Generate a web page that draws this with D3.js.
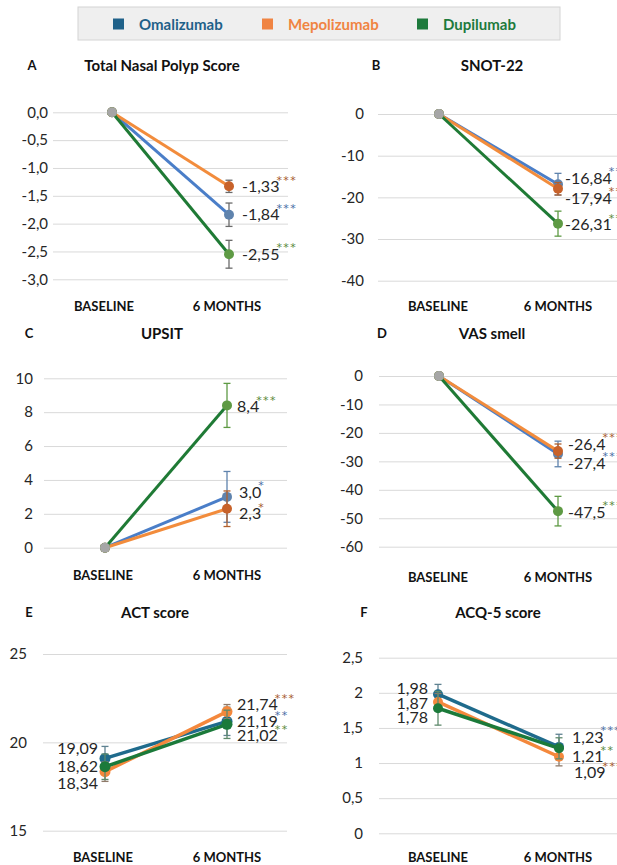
<!DOCTYPE html>
<html>
<head>
<meta charset="utf-8">
<script src="https://cdn.jsdelivr.net/npm/d3@7"></script>
<style>
    body { margin: 0; background: #fff; }
    svg text { font-family: Lato, "Open Sans", sans-serif; }
</style>
</head>
<body>
<div id="chart"></div>
<script>

// groups (same order everywhere) and the two time points
const groups = ["Omalizumab", "Mepolizumab", "Dupilumab"];
const timepoints = ["BASELINE", "6 MONTHS"];

// A - Total Nasal Polyp Score (change from baseline)
const tnpsMean = [[0, -1.84], [0, -1.33], [0, -2.55]];
const tnpsErr = [[0, 0.21], [0, 0.11], [0, 0.25]];
const tnpsStars = ["***", "***", "***"];
const tnpsTicks = [0, -0.5, -1, -1.5, -2, -2.5, -3];

// B - SNOT-22
const snotMean = [[0, -16.84], [0, -17.94], [0, -26.31]];
const snotErr = [[0, 2.6], [0, 1.5], [0, 3.0]];
const snotStars = ["***", "***", "***"];
const snotTicks = [0, -10, -20, -30, -40];

// C - UPSIT
const upsitMean = [[0, 3.0], [0, 2.3], [0, 8.4]];
const upsitErr = [[0, 1.5], [0, 1.05], [0, 1.3]];
const upsitStars = ["*", "*", "***"];
const upsitTicks = [0, 2, 4, 6, 8, 10];

// D - VAS smell
const vasMean = [[0, -27.4], [0, -26.4], [0, -47.5]];
const vasErr = [[0, 4.5], [0, 2.5], [0, 5.2]];
const vasStars = ["***", "***", "***"];
const vasTicks = [0, -10, -20, -30, -40, -50, -60];

// E - ACT score
const actMean = [[19.09, 21.19], [18.34, 21.74], [18.62, 21.02]];
const actErr = [[0.68, 0.8], [0.55, 0.4], [0.72, 0.8]];
const actStars = ["**", "***", "**"];
const actTicks = [15, 20, 25];

// F - ACQ-5 score
const acqMean = [[1.98, 1.23], [1.87, 1.09], [1.78, 1.21]];
const acqErr = [[0.14, 0.18], [0.12, 0.13], [0.24, 0.15]];
const acqStars = ["***", "***", "**"];
const acqTicks = [0, 0.5, 1, 1.5, 2, 2.5];

// comma decimals, plain hyphen minus
const locale = d3.formatLocale({decimal: ",", thousands: ".", grouping: [3], currency: ["", ""], minus: "-"});

const legendColors = ["#1f6189", "#f08442", "#1d7a3c"];
const starColors = ["#4a6fa5", "#a65a2e", "#5a8a3a"];

// styles for the top four panels (excel default look) and the two asthma panels
const softStyle = {
    line: ["#4a7ec8", "#f28c3c", "#1f7a35"],
    marker: ["#5f83ad", "#c8622a", "#5e9a44"],
    err: ["#5f83ad", "#b0602e", "#5e9a44"],
    width: 3, r: 5
};
const darkStyle = {
    line: ["#1f6b8c", "#f4883c", "#1b7a3a"],
    marker: ["#1f6b8c", "#f4883c", "#1b7a3a"],
    err: ["#5f8291", "#8f7a6a", "#5f8a6c"],
    width: 3.5, r: 5.5
};

class panelVis {
    constructor(_svg, _cfg) {
        this.svg = _svg;
        this.cfg = _cfg;
        this.initVis();
    }

    initVis() {
        let vis = this;
        let c = vis.cfg;

        vis.g = vis.svg.append('g').attr('class', 'panel');

        vis.x = d3.scalePoint().domain(timepoints).range([c.x0, c.x1]);
        vis.xLab = d3.scalePoint().domain(timepoints).range(c.xLab);
        vis.y = d3.scaleLinear().domain(c.domain).range(c.yRange);

        // letter + title
        vis.g.append('text')
            .attr('x', c.letter[0]).attr('y', c.letter[1])
            .attr('text-anchor', 'middle').attr('dominant-baseline', 'central')
            .attr('font-size', 13).attr('font-weight', 700).attr('fill', '#111')
            .text(c.id);
        vis.g.append('text')
            .attr('x', c.title[0]).attr('y', c.title[1])
            .attr('text-anchor', 'middle').attr('dominant-baseline', 'central')
            .attr('font-size', 15).attr('font-weight', 700).attr('fill', '#111')
            .text(c.name);

        // y axis used as gridlines + labels
        vis.yAxis = d3.axisLeft(vis.y)
            .tickValues(c.ticks)
            .tickFormat(locale.format(c.tickFmt))
            .tickSize(-(c.grid[1] - c.grid[0]))
            .tickPadding(c.grid[0] - c.tickX);

        vis.g.append('g')
            .attr('transform', 'translate(' + c.grid[0] + ',0)')
            .call(vis.yAxis)
            .call(g => g.select('.domain').remove())
            .call(g => g.selectAll('.tick line').attr('stroke', '#d9d9d9').attr('stroke-width', 1))
            .call(g => g.selectAll('.tick text')
                .attr('font-size', 15).attr('fill', '#262626')
                .attr('font-family', 'Lato, sans-serif'));

        // category labels
        vis.g.selectAll('.xlab')
            .data(timepoints)
            .enter()
            .append('text')
            .attr('class', 'xlab')
            .attr('x', d => vis.xLab(d))
            .attr('y', c.xLabY)
            .attr('text-anchor', 'middle').attr('dominant-baseline', 'central')
            .attr('font-size', 13).attr('font-weight', 700).attr('fill', '#111')
            .text(d => d);

        let st = c.style;
        let series = groups.map((gname, i) => ({
            i: i,
            pts: timepoints.map((t, j) => ({t: t, v: c.mean[i][j], e: c.err[i][j]}))
        }));

        vis.line = d3.line()
            .x(d => vis.x(d.t))
            .y(d => vis.y(d.v));

        let sg = vis.g.selectAll('.series')
            .data(series)
            .enter()
            .append('g')
            .attr('class', 'series');

        sg.append('path')
            .attr('d', d => vis.line(d.pts))
            .attr('fill', 'none')
            .attr('stroke', d => st.line[d.i])
            .attr('stroke-width', st.width);

        // error bars
        sg.each(function(s) {
            let eb = d3.select(this).selectAll('.err')
                .data(s.pts.filter(p => p.e > 0))
                .enter()
                .append('g')
                .attr('class', 'err')
                .attr('stroke', c.errGray ? '#6b6b6b' : st.err[s.i])
                .attr('stroke-width', 1.3);
            eb.append('line')
                .attr('x1', p => vis.x(p.t)).attr('x2', p => vis.x(p.t))
                .attr('y1', p => vis.y(p.v + p.e)).attr('y2', p => vis.y(p.v - p.e));
            eb.append('line')
                .attr('x1', p => vis.x(p.t) - 3.5).attr('x2', p => vis.x(p.t) + 3.5)
                .attr('y1', p => vis.y(p.v + p.e)).attr('y2', p => vis.y(p.v + p.e));
            eb.append('line')
                .attr('x1', p => vis.x(p.t) - 3.5).attr('x2', p => vis.x(p.t) + 3.5)
                .attr('y1', p => vis.y(p.v - p.e)).attr('y2', p => vis.y(p.v - p.e));
        });

        sg.selectAll('circle')
            .data(s => s.pts.map(p => Object.assign({i: s.i}, p)))
            .enter()
            .append('circle')
            .attr('cx', p => vis.x(p.t))
            .attr('cy', p => vis.y(p.v))
            .attr('r', st.r)
            .attr('fill', p => st.marker[p.i]);

        // shared zero start point is grey
        if (c.greyStart) {
            vis.g.append('circle')
                .attr('cx', vis.x(timepoints[0]))
                .attr('cy', vis.y(0))
                .attr('r', st.r)
                .attr('fill', '#a6a6a6');
        }

        let valFmt = locale.format(c.valFmt);

        // 6 month value labels with significance stars
        groups.forEach((gname, i) => {
            let v = c.mean[i][1];
            let t = vis.g.append('text')
                .attr('x', vis.x(timepoints[1]) + c.lab6.dx[i])
                .attr('y', vis.y(v) + c.lab6.dy[i] + 5.7)
                .attr('font-size', 16).attr('fill', '#262626')
                .text(valFmt(v));
            t.append('tspan')
                .attr('dx', -3).attr('dy', -8.5)
                .attr('font-family', '"DejaVu Sans", sans-serif')
                .attr('font-size', 11).attr('letter-spacing', 1.4)
                .attr('fill', starColors[i])
                .text(c.stars[i]);
        });

        // baseline value labels (only where baselines differ)
        if (c.lab0) {
            groups.forEach((gname, i) => {
                let v = c.mean[i][0];
                vis.g.append('text')
                    .attr('x', vis.x(timepoints[0]) + c.lab0.dx)
                    .attr('y', vis.y(v) + c.lab0.dy[i] + 5.7)
                    .attr('text-anchor', 'end')
                    .attr('font-size', 16).attr('fill', '#262626')
                    .text(valFmt(v));
            });
        }
    }
}

let width = 617, height = 865;

let svg = d3.select('#chart').append('svg')
    .attr('width', width)
    .attr('height', height);

// legend box
let legend = svg.append('g').attr('class', 'legend');
legend.append('rect')
    .attr('x', 78).attr('y', 7).attr('width', 482).attr('height', 33)
    .attr('fill', '#efefef').attr('stroke', '#d4d4d4');
let legendX = [113, 262, 417];
groups.forEach((gname, i) => {
    legend.append('rect')
        .attr('x', legendX[i]).attr('y', 18.5)
        .attr('width', 11).attr('height', 11)
        .attr('fill', legendColors[i]);
    legend.append('text')
        .attr('x', legendX[i] + 26).attr('y', 24)
        .attr('dominant-baseline', 'central')
        .attr('font-size', 15).attr('font-weight', 700)
        .attr('fill', legendColors[i])
        .text(gname);
});

let panels = [
    {id: 'A', name: 'Total Nasal Polyp Score', mean: tnpsMean, err: tnpsErr, stars: tnpsStars, ticks: tnpsTicks,
        tickFmt: '.1f', valFmt: '.2f', style: softStyle, greyStart: true, errGray: true,
        x0: 112, x1: 229, domain: [0, -3], yRange: [112.3, 279.3], grid: [53, 288], tickX: 48,
        letter: [32, 65], title: [162, 65], xLabY: 306, xLab: [104, 227],
        lab6: {dx: [13, 13, 13], dy: [0, 0, 0]}},
    {id: 'B', name: 'SNOT-22', mean: snotMean, err: snotErr, stars: snotStars, ticks: snotTicks,
        tickFmt: 'd', valFmt: '.2f', style: softStyle, greyStart: true,
        x0: 439, x1: 558, domain: [0, -40], yRange: [114, 280.7], grid: [378, 617], tickX: 364,
        letter: [376, 65], title: [492, 65], xLabY: 306, xLab: [438, 558],
        lab6: {dx: [7, 7, 7], dy: [-6, 9.5, 1]}},
    {id: 'C', name: 'UPSIT', mean: upsitMean, err: upsitErr, stars: upsitStars, ticks: upsitTicks,
        tickFmt: 'd', valFmt: '.1f', style: softStyle, greyStart: true,
        x0: 105, x1: 227, domain: [0, 10], yRange: [547.7, 378.3], grid: [44, 287], tickX: 33,
        letter: [29, 333], title: [162, 333], xLabY: 575, xLab: [103, 227],
        lab6: {dx: [12, 12, 10], dy: [-5, 5, 1]}},
    {id: 'D', name: 'VAS smell', mean: vasMean, err: vasErr, stars: vasStars, ticks: vasTicks,
        tickFmt: 'd', valFmt: '.1f', style: softStyle, greyStart: true,
        x0: 439, x1: 558, domain: [0, -60], yRange: [376, 546.7], grid: [379, 617], tickX: 363,
        letter: [382, 333], title: [492, 333], xLabY: 577, xLab: [438, 558],
        lab6: {dx: [10, 10, 10], dy: [9, -7, 1]}},
    {id: 'E', name: 'ACT score', mean: actMean, err: actErr, stars: actStars, ticks: actTicks,
        tickFmt: 'd', valFmt: '.2f', style: darkStyle, greyStart: false,
        x0: 105, x1: 227, domain: [15, 25], yRange: [830.7, 654], grid: [43, 287], tickX: 27,
        letter: [29, 612], title: [155, 612], xLabY: 857, xLab: [103, 227],
        lab6: {dx: [10, 10, 10], dy: [0, -7, 11]},
        lab0: {dx: -7, dy: [-10, 12, 0]}},
    {id: 'F', name: 'ACQ-5 score', mean: acqMean, err: acqErr, stars: acqStars, ticks: acqTicks,
        tickFmt: '~g', valFmt: '.2f', style: Object.assign({}, darkStyle, {r: 5}), greyStart: false,
        x0: 438, x1: 559, domain: [0, 2.5], yRange: [833.3, 657.7], grid: [379, 617], tickX: 363,
        letter: [364, 612], title: [498, 612], xLabY: 857, xLab: [438, 558],
        lab6: {dx: [13, 15, 13], dy: [-10, 16, 8]},
        lab0: {dx: -10, dy: [-6, 1, 9]}}
];

panels.forEach(cfg => new panelVis(svg, cfg));

</script>
</body>
</html>
